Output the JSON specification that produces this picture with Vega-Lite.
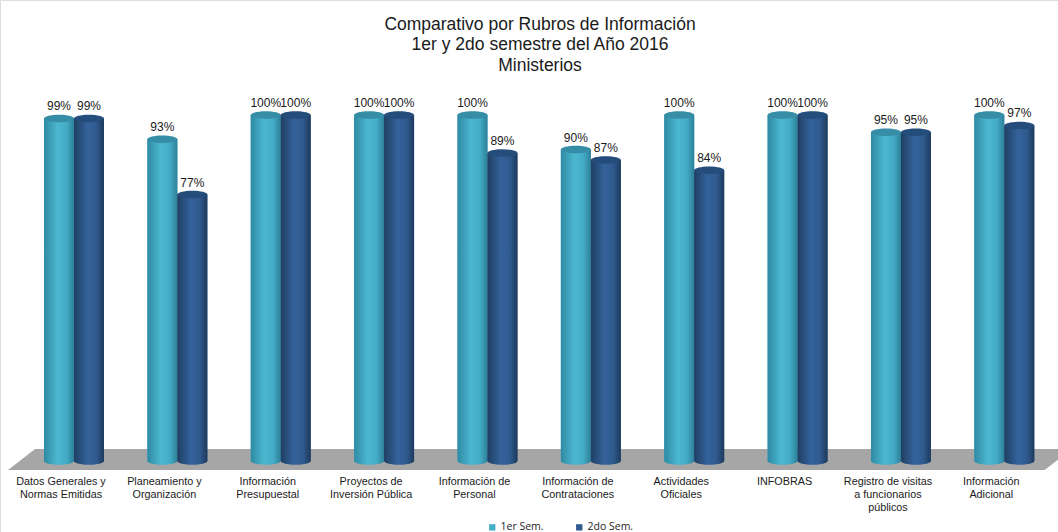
{
"$schema":"https://vega.github.io/schema/vega-lite/v6.json",
"width":1058,"height":532,"padding":0,"autosize":{"type":"none"},"background":"white",
"title":{"text":["Comparativo por Rubros de Información","1er y 2do semestre del Año 2016","Ministerios"],"orient":"top","anchor":"middle","frame":"group","offset":-74,"dx":11,"baseline":"top","font":"Liberation Sans","fontSize":17.5,"fontWeight":"normal","lineHeight":20.5,"color":"#1a1a1a"},
"datasets":{
"bars":[
{"rubro":"Datos Generales y|Normas Emitidas","serie":"1er Sem.","pct":99},{"rubro":"Datos Generales y|Normas Emitidas","serie":"2do Sem.","pct":99},
{"rubro":"Planeamiento y|Organización","serie":"1er Sem.","pct":93},{"rubro":"Planeamiento y|Organización","serie":"2do Sem.","pct":77},
{"rubro":"Información|Presupuestal","serie":"1er Sem.","pct":100},{"rubro":"Información|Presupuestal","serie":"2do Sem.","pct":100},
{"rubro":"Proyectos de|Inversión Pública","serie":"1er Sem.","pct":100},{"rubro":"Proyectos de|Inversión Pública","serie":"2do Sem.","pct":100},
{"rubro":"Información de|Personal","serie":"1er Sem.","pct":100},{"rubro":"Información de|Personal","serie":"2do Sem.","pct":89},
{"rubro":"Información de|Contrataciones","serie":"1er Sem.","pct":90},{"rubro":"Información de|Contrataciones","serie":"2do Sem.","pct":87},
{"rubro":"Actividades|Oficiales","serie":"1er Sem.","pct":100},{"rubro":"Actividades|Oficiales","serie":"2do Sem.","pct":84},
{"rubro":"INFOBRAS","serie":"1er Sem.","pct":100},{"rubro":"INFOBRAS","serie":"2do Sem.","pct":100},
{"rubro":"Registro de visitas|a funcionarios|públicos","serie":"1er Sem.","pct":95},{"rubro":"Registro de visitas|a funcionarios|públicos","serie":"2do Sem.","pct":95},
{"rubro":"Información|Adicional","serie":"1er Sem.","pct":100},{"rubro":"Información|Adicional","serie":"2do Sem.","pct":97}
],
"floor":[
{"pos":-0.135,"top":-2.6,"bottom":-2.6},
{"pos":0.126,"top":3.47,"bottom":-2.6},
{"pos":9.89,"top":3.47,"bottom":-2.6},
{"pos":10.02,"top":3.47,"bottom":0.4}
]},
"resolve":{"scale":{"x":"independent"}},
"layer":[
{"data":{"name":"floor"},
 "mark":{"type":"area","color":"#a6a6a6"},
 "encoding":{
  "x":{"field":"pos","type":"quantitative","scale":{"domain":[-0.213,10.019],"nice":false,"zero":false},"axis":null},
  "y":{"field":"top","type":"quantitative","scale":{"domain":[0,100],"range":[461,115],"nice":false},"axis":null},
  "y2":{"field":"bottom"}}},
{"data":{"name":"bars"},
 "encoding":{
  "x":{"field":"rubro","type":"nominal","scale":{"domain":["Datos Generales y|Normas Emitidas","Planeamiento y|Organización","Información|Presupuestal","Proyectos de|Inversión Pública","Información de|Personal","Información de|Contrataciones","Actividades|Oficiales","INFOBRAS","Registro de visitas|a funcionarios|públicos","Información|Adicional"],"range":[22.3,1056],"paddingInner":0.42,"paddingOuter":0.21},
   "axis":{"title":null,"orient":"bottom","offset":-532,"domain":false,"ticks":false,"labelAngle":0,"labelPadding":475,"labelOffset":-13,"labelFont":"Liberation Sans","labelFontSize":10.8,"labelColor":"#1a1a1a","labelLineHeight":13,"labelExpr":"split(datum.label,'|')","labelLimit":200,"labelBaseline":"top","grid":false}},
  "xOffset":{"field":"serie","type":"nominal","scale":{"domain":["1er Sem.","2do Sem."],"paddingInner":0,"paddingOuter":0}},
  "y":{"field":"pct","type":"quantitative","scale":{"domain":[0,100],"range":[461,115],"nice":false},"axis":null}},
 "layer":[
  {"mark":{"type":"bar"},
   "encoding":{"color":{"field":"serie","type":"nominal","scale":{"domain":["1er Sem.","2do Sem."],"range":["#45afca","#30598f"]},
    "legend":{"orient":"none","legendX":487,"legendY":522,"direction":"horizontal","title":null,"symbolType":"square","symbolSize":40,"labelFont":"Open Sans","labelFontSize":10.5,"labelColor":"#262626","columnPadding":30,"labelOffset":3}}}},
  {"transform":[{"filter":"datum.serie==='1er Sem.'"}],"mark":{"type":"bar","fill":{"gradient":"linear","x1":0,"x2":1,"y1":0,"y2":0,"stops":[{"offset":0,"color":"#2f8aa3"},{"offset":0.45,"color":"#4cb7d1"},{"offset":0.75,"color":"#44abc6"},{"offset":1,"color":"#2c8098"}]}}},
  {"transform":[{"filter":"datum.serie==='2do Sem.'"}],"mark":{"type":"bar","fill":{"gradient":"linear","x1":0,"x2":1,"y1":0,"y2":0,"stops":[{"offset":0,"color":"#1f3f62"},{"offset":0.45,"color":"#34629b"},{"offset":0.75,"color":"#2f5a8e"},{"offset":1,"color":"#1d3a5c"}]}}},
  {"transform":[{"filter":"datum.serie==='1er Sem.'"}],"mark":{"type":"point","filled":true,"opacity":1,"size":900,"shape":"M-1,0 A1,0.25 0 1,1 1,0 A1,0.25 0 1,1 -1,0 Z","fill":{"gradient":"linear","x1":0,"x2":1,"y1":0,"y2":0,"stops":[{"offset":0,"color":"#2f8aa3"},{"offset":0.45,"color":"#4cb7d1"},{"offset":0.75,"color":"#44abc6"},{"offset":1,"color":"#2c8098"}]}},"encoding":{"y":{"datum":0}}},
  {"transform":[{"filter":"datum.serie==='2do Sem.'"}],"mark":{"type":"point","filled":true,"opacity":1,"size":900,"shape":"M-1,0 A1,0.25 0 1,1 1,0 A1,0.25 0 1,1 -1,0 Z","fill":{"gradient":"linear","x1":0,"x2":1,"y1":0,"y2":0,"stops":[{"offset":0,"color":"#1f3f62"},{"offset":0.45,"color":"#34629b"},{"offset":0.75,"color":"#2f5a8e"},{"offset":1,"color":"#1d3a5c"}]}},"encoding":{"y":{"datum":0}}},
  {"transform":[{"filter":"datum.serie==='1er Sem.'"}],"mark":{"type":"point","filled":true,"opacity":1,"size":900,"shape":"M-1,0 A1,0.25 0 1,1 1,0 A1,0.25 0 1,1 -1,0 Z","fill":"#358da6"}},
  {"transform":[{"filter":"datum.serie==='2do Sem.'"}],"mark":{"type":"point","filled":true,"opacity":1,"size":900,"shape":"M-1,0 A1,0.25 0 1,1 1,0 A1,0.25 0 1,1 -1,0 Z","fill":"#254d7b"}},
  {"transform":[{"calculate":"datum.pct+'%'","as":"label"}],
   "mark":{"type":"text","baseline":"bottom","dy":-5,"font":"Liberation Sans","fontSize":12,"color":"#1a1a1a"},
   "encoding":{"text":{"field":"label","type":"nominal"}}}
 ]}
]}
